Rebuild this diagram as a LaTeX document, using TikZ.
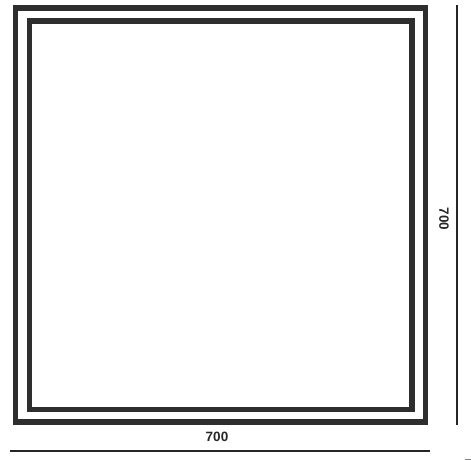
\documentclass[tikz,border=0pt]{standalone}
\usepackage{fontspec}
\setmainfont{Liberation Sans}
\begin{document}
\begin{tikzpicture}[x = 1pt, y = -1pt]
		\tikzstyle{every node} = [font = \fontsize{13.5}{16}\selectfont\bfseries, text = black!85]
		\tikzstyle{rahmen} = [draw = black!82, line width = 5.8pt]
		\tikzstyle{mass} = [draw = black!85, line width = 1.3pt]

\useasboundingbox (0,0) rectangle (471,460);

% Rahmen
\draw[rahmen] (15.5,8) rectangle (425.5,422);
\draw[rahmen, line width = 5.5pt] (29.5,21) rectangle (412,409.5);

% Maße
\draw[mass] (10,451) -- (430,451);
\draw[mass] (457,5) -- (457,425);
\draw[draw = gray, line width = 0.8pt] (465,459) -- (471,459);

% Beschriftung
\node (breite) at (217,437) {700};
\node[rotate = -90] (hoehe) at (444,219) {700};

\end{tikzpicture}
\end{document}
